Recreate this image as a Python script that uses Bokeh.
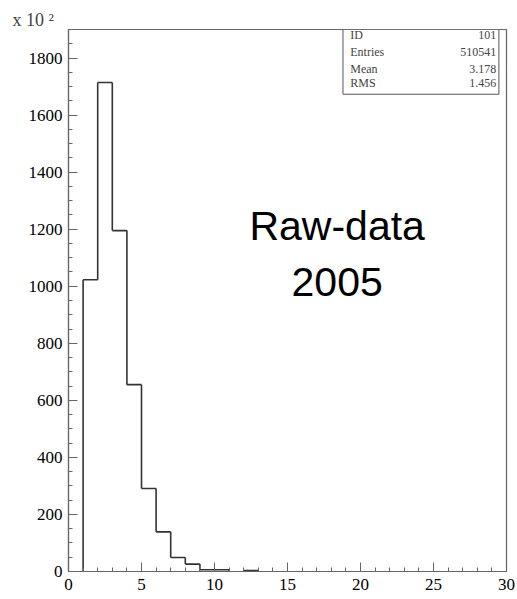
from bokeh.plotting import figure
from bokeh.models import Range1d, SingleIntervalTicker, Label
from bokeh.embed import file_html
from bokeh.resources import INLINE

# Histogram: bin edges (low edges) and contents in units of 10^2 entries
bin_low = [0, 1, 2, 3, 4, 5, 6, 7, 8, 9, 10, 11, 12, 13]
counts = [0, 1023, 1714, 1195, 655, 291, 139, 49, 26, 6, 6, 0, 3, 0]

stat_names = ["ID", "Entries", "Mean", "RMS"]
stat_values = ["101", "510541", "3.178", "1.456"]

annotation_lines = ["Raw-data", "2005"]
exponent_text = "x 10 \u00b2"

p = figure(width=517, height=599, output_backend="svg", toolbar_location=None,
           x_range=Range1d(0, 30), y_range=Range1d(0, 1900),
           min_border_left=68, min_border_right=11, min_border_top=29, min_border_bottom=28)
p.grid.visible = False
p.outline_line_color = "#666666"
p.outline_line_width = 1.2
p.background_fill_color = "white"
p.border_fill_color = "white"

p.title.text = exponent_text
p.title.text_font = "Liberation Serif"
p.title.text_font_size = "18px"
p.title.text_font_style = "normal"
p.title.align = "left"
p.title.offset = -56
p.title.standoff = 0

for ax, interval, nminor in ((p.xaxis[0], 5, 5), (p.yaxis[0], 200, 4)):
    ax.ticker = SingleIntervalTicker(interval=interval, num_minor_ticks=nminor)
    ax.axis_line_color = "#666666"
    ax.axis_line_width = 1.2
    ax.major_tick_line_color = "#666666"
    ax.minor_tick_line_color = "#666666"
    ax.major_tick_in = 9
    ax.major_tick_out = 0
    ax.minor_tick_in = 4
    ax.minor_tick_out = 0
    ax.major_label_text_font = "Liberation Serif"
    ax.major_label_text_font_size = "17px"
    ax.major_label_text_color = "black"
p.xaxis.major_label_standoff = 7
p.yaxis.major_label_standoff = 6

# Build histogram outline segments from the data
x0, y0, x1, y1 = [], [], [], []
prev = 0
for lo, c in zip(bin_low, counts):
    if c != prev:
        x0.append(lo); x1.append(lo); y0.append(prev); y1.append(c)
    if c > 0:
        x0.append(lo); x1.append(lo + 1); y0.append(c); y1.append(c)
    prev = c
p.segment(x0=x0, y0=y0, x1=x1, y1=y1, line_color="#333333", line_width=1.6)

# Stats box
p.quad(left=18.8, right=29.48, bottom=1673, top=1900, fill_color="white",
       line_color="#555555", line_width=1)
ys = [1882, 1820, 1763, 1713]
for name, val, yy in zip(stat_names, stat_values, ys):
    p.add_layout(Label(x=19.3, y=yy, text=name, text_font="Liberation Serif",
                       text_font_size="12px", text_baseline="middle", text_align="left"))
    p.add_layout(Label(x=29.3, y=yy, text=val, text_font="Liberation Serif",
                       text_font_size="12px", text_baseline="middle", text_align="right"))

# Big annotation
for txt, yy in zip(annotation_lines, [1212, 1016]):
    p.add_layout(Label(x=18.4, y=yy, text=txt, text_font="Liberation Sans",
                       text_font_size="41px", text_align="center",
                       text_baseline="alphabetic", text_color="black"))

open("out.html", "w").write(file_html(p, INLINE))
